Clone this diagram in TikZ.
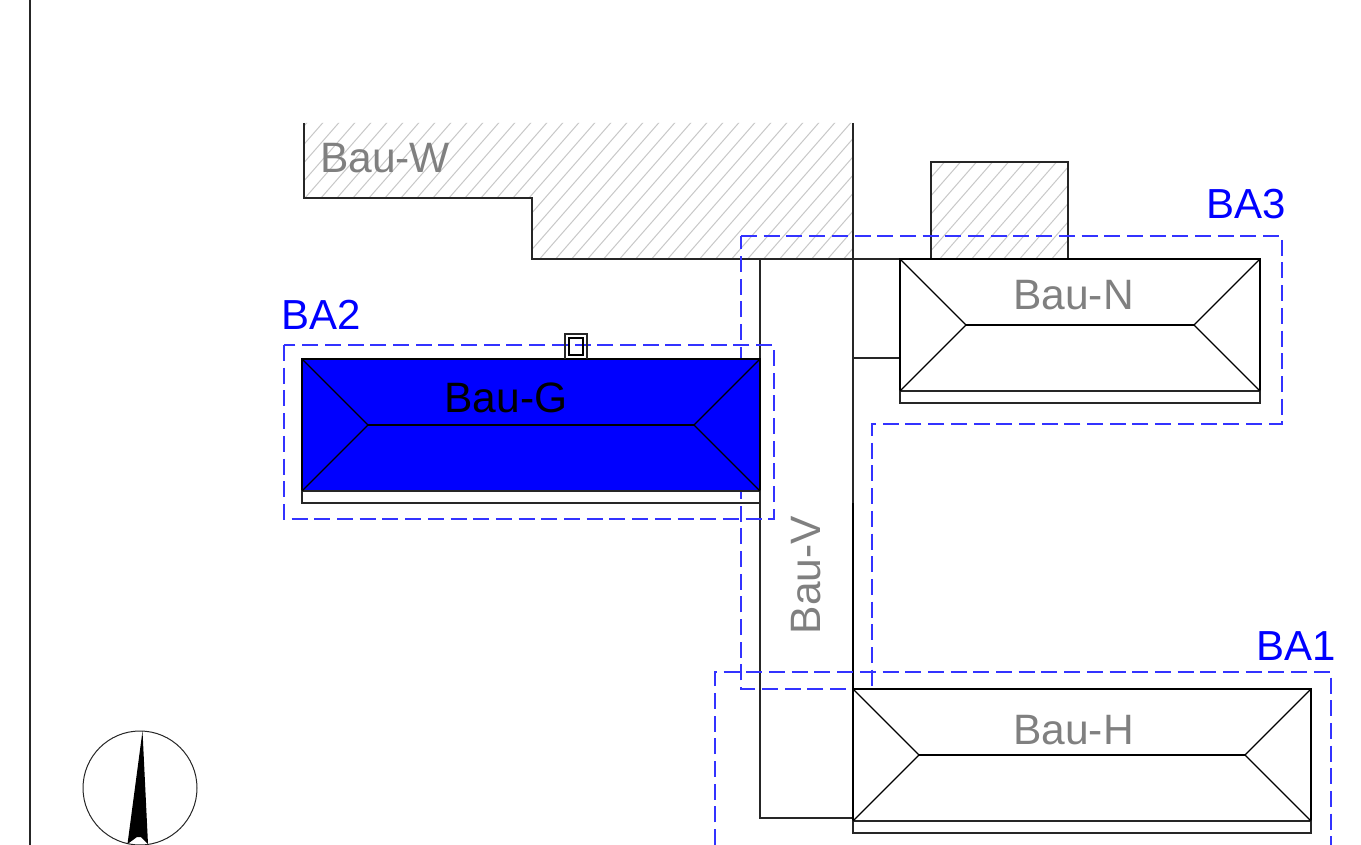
\documentclass[tikz,border=0pt]{standalone}
\usepackage{fontspec}
\setmainfont{Liberation Sans}
\usepackage{xcolor}
\definecolor{labelgray}{RGB}{128,128,128}
\definecolor{hatchgray}{RGB}{200,200,200}
\definecolor{planblue}{RGB}{0,0,255}
\tikzstyle{wall} = [line width=1.2pt, draw=black!85]
\tikzstyle{roof} = [line width=1.1pt, draw=black]
\tikzstyle{hatchline} = [line width=1pt, draw=hatchgray]
\tikzstyle{phase} = [line width=1.1pt, draw=planblue!80, dash pattern=on 16pt off 6.7pt]
\tikzstyle{phaselabel} = [text=planblue, font=\fontsize{42}{42}\selectfont, inner sep=0pt]
\tikzstyle{buildlabel} = [text=labelgray, font=\fontsize{42.5}{42.5}\selectfont, inner sep=0pt]

\begin{document}
\begin{tikzpicture}[x=1pt, y=-1pt]
\useasboundingbox (0,0) rectangle (1361,845);
\draw [wall] (30,0) -- (30,845);

\begin{scope}
\clip (304,123) -- (304,198) -- (532,198) -- (532,259) -- (853,259) -- (853,123) -- cycle;
\foreach \i in {0,...,50}
  \draw [hatchline] (130+16*\i,270) -- (270+16*\i,110);
\end{scope}
\begin{scope}
\clip (931,162) rectangle (1068,259);
\foreach \i in {0,...,18}
  \draw [hatchline] (770+16*\i,270) -- (910+16*\i,110);
\end{scope}

\draw [wall] (304,123) -- (304,198) -- (532,198) -- (532,259) -- (1260,259);
\draw [wall] (853,123) -- (853,834);
\draw [line width=2pt] (853,503) -- (853,825);
\draw [wall] (931,259) -- (931,162) -- (1068,162) -- (1068,259);
\draw [wall] (760,259) -- (760,818) -- (853,818);
\draw [wall] (853,358) -- (900,358);

\draw [phase] (741,236) -- (1282,236) -- (1282,424) -- (872,424) -- (872,689) -- (741,689) -- cycle;
\draw [phase] (284,345) rectangle (774,519);
\draw [phase] (715,845) -- (715,672) -- (1331,672) -- (1331,845);

\fill [planblue] (302,359) rectangle (760,491);
\foreach \x/\y/\w/\r in {302/359/458/66, 900/259/360/66, 853/689/458/66} {
  \draw [roof] (\x,\y) rectangle (\x+\w,\y+132);
  \draw [wall] (\x,\y+132) rectangle (\x+\w,\y+144);
  \draw [roof] (\x,\y) -- (\x+\r,\y+66) -- (\x,\y+132);
  \draw [roof] (\x+\w,\y) -- (\x+\w-\r,\y+66) -- (\x+\w,\y+132);
  \draw [roof] (\x+\r,\y+66) -- (\x+\w-\r,\y+66);
}
\draw [wall] (565,359) -- (565,334) -- (587,334) -- (587,359);
\draw [roof] (569,338) rectangle (583,355);

\node (ba3) [phaselabel] at (1246,204) {BA3};
\node (ba2) [phaselabel] at (321,315) {BA2};
\node (ba1) [phaselabel] at (1296,646) {BA1};
\node (bauw) [buildlabel] at (385,158) {Bau-W};
\node (baun) [buildlabel] at (1073.5,295) {Bau-N};
\node (baug) [buildlabel, text=black] at (506,398) {Bau-G};
\node (bauh) [buildlabel] at (1073.5,730) {Bau-H};
\node (bauv) [buildlabel, rotate=90] at (806,575) {Bau-V};

\draw [line width=1pt, draw=black!85] (140,788) circle (57);
\fill (142.5,731) -- (127.5,844) -- (137,837) -- (141,837) -- (148,844) -- cycle;
\end{tikzpicture}
\end{document}
